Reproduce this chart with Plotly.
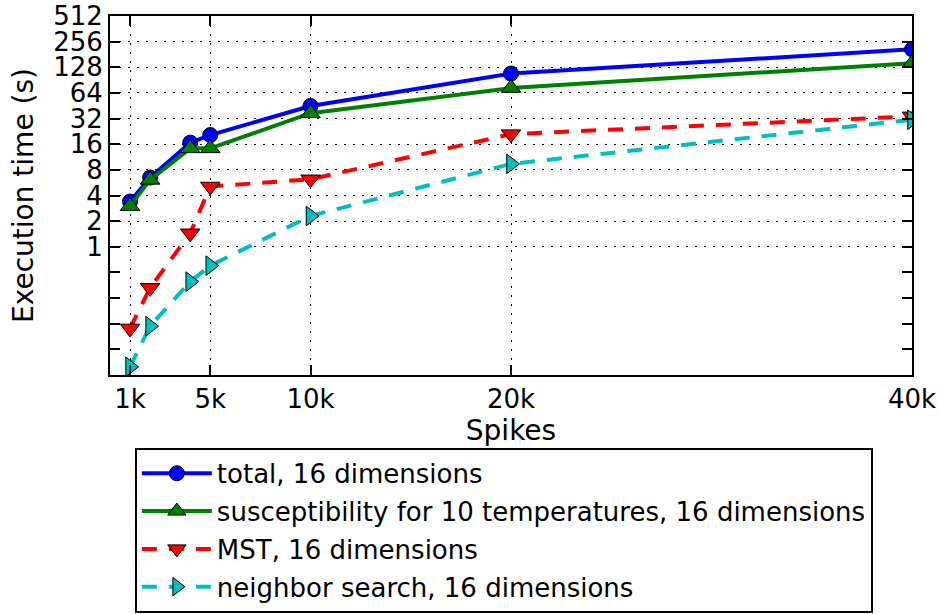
import plotly.graph_objects as go

# Number of spikes clustered
spikes = [1000, 2000, 4000, 5000, 10000, 20000, 40000]

# Execution times in seconds
total_16d = [3.4, 6.5, 16.7, 20.5, 45, 108, 208]
susceptibility_16d = [3.0, 6.1, 14.3, 14.3, 37, 73, 143]
mst_16d = [0.11, 0.33, 1.44, 5.1, 6.2, 21, 34]
neighbor_16d = [0.039, 0.117, 0.39, 0.6, 2.3, 9.4, 31]

x_tickvals = [1000, 5000, 10000, 20000, 40000]
x_ticktext = ["1k", "5k", "10k", "20k", "40k"]
y_tickvals = [1, 2, 4, 8, 16, 32, 64, 128, 256, 512]
y_ticktext = [str(v) for v in y_tickvals]
y_minor_vals = [0.5, 0.25, 0.125, 0.0625]

FONT = "DejaVu Sans"

series = [
    ("total, 16 dimensions", total_16d, "#0000ff", "circle", 15, "solid"),
    ("susceptibility for 10 temperatures, 16 dimensions", susceptibility_16d,
     "#008000", "triangle-up", 17, "solid"),
    ("MST, 16 dimensions", mst_16d, "#ff0000", "triangle-down", 17, "15px,12px"),
    ("neighbor search, 16 dimensions", neighbor_16d, "#00bfbf", "triangle-right", 17, "15px,12px"),
]

fig = go.Figure()
for i, (name, vals, color, symbol, msize, dash) in enumerate(series):
    fig.add_trace(go.Scatter(
        x=spikes, y=vals, name=name, mode="lines+markers",
        legendgroup=f"g{i}",
        line=dict(color=color, width=4, dash=dash),
        marker=dict(symbol=symbol, size=msize, color=color,
                    line=dict(color="black", width=1)),
    ))

axis_common = dict(
    showline=True, linecolor="black", linewidth=2, mirror="ticks",
    ticks="inside", ticklen=10, tickwidth=1.5, tickcolor="black",
    showgrid=True, gridcolor="black", gridwidth=1, griddash="2px,7px",
    zeroline=False,
    tickfont=dict(family=FONT, size=26, color="black"),
)

fig.update_xaxes(
    **axis_common,
    range=[0, 40000],
    tickmode="array", tickvals=x_tickvals, ticktext=x_ticktext,
    title=dict(text="Spikes", font=dict(family=FONT, size=28, color="black"),
               standoff=6),
)
fig.update_yaxes(
    **axis_common,
    type="log",
    range=[-1.50515, 2.70927],
    tickmode="array", tickvals=y_tickvals, ticktext=y_ticktext,
    minor=dict(tickmode="array", tickvals=y_minor_vals, ticks="inside",
               ticklen=10, tickwidth=1.5, tickcolor="black", showgrid=False),
    title=dict(text="Execution time (s)",
               font=dict(family=FONT, size=28, color="black"), standoff=11),
)

fig.update_layout(
    width=946, height=614,
    margin=dict(l=110, r=34, t=16, b=239, autoexpand=False),
    plot_bgcolor="white", paper_bgcolor="white",
    font=dict(family=FONT, color="black"),
    showlegend=True,
    legend=dict(
        x=0.031, y=-0.203, xanchor="left", yanchor="top",
        bordercolor="black", borderwidth=2, bgcolor="white",
        font=dict(family=FONT, size=26, color="black"),
        itemwidth=70, tracegroupgap=1,
    ),
)

fig.write_html("out.html")
